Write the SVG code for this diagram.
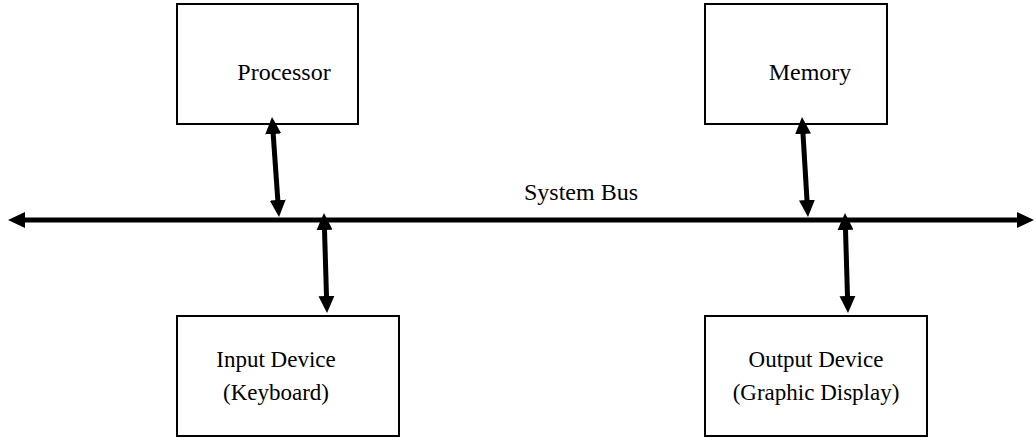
<svg xmlns="http://www.w3.org/2000/svg" width="1036" height="443" viewBox="0 0 1036 443">
  <style>
    .box { fill: #ffffff; stroke: #000000; stroke-width: 2; }
    .label { font-family: "Liberation Serif", "Times New Roman", serif; font-size: 24px; fill: #000000; text-anchor: middle; }
    .small { font-size: 23px; }
    .link { stroke: #000000; stroke-width: 5; fill: none; marker-start: url(#head); marker-end: url(#head); }
  </style>
  <defs>
    <!-- solid triangular head; line ends 10px short of the tip -->
    <marker id="head" markerUnits="userSpaceOnUse" markerWidth="17" markerHeight="16" refX="7" refY="8" orient="auto-start-reverse">
      <path d="M0,0 L17,8 L0,16 z" fill="#000000"/>
    </marker>
  </defs>

  <rect width="1036" height="443" fill="#ffffff"/>

  <g id="processor">
    <rect class="box" x="177" y="4" width="181" height="120"/>
    <text class="label" x="284" y="80">Processor</text>
  </g>

  <g id="memory">
    <rect class="box" x="705" y="4" width="182" height="120"/>
    <text class="label" x="810" y="80">Memory</text>
  </g>

  <g id="input-device">
    <rect class="box" x="177" y="316" width="222" height="120"/>
    <text class="label small" x="276" y="367">Input Device</text>
    <text class="label small" x="276" y="400">(Keyboard)</text>
  </g>

  <g id="output-device">
    <rect class="box" x="705" y="316" width="222" height="120"/>
    <text class="label small" x="816" y="367">Output Device</text>
    <text class="label small" x="816" y="400">(Graphic Display)</text>
  </g>

  <g id="system-bus">
    <text class="label" x="581" y="200">System Bus</text>
  </g>

  <g id="connectors">
    <!-- system bus -->
    <line class="link" x1="18" y1="220" x2="1024" y2="220"/>
    <!-- processor to bus -->
    <line class="link" x1="272.7" y1="127" x2="278.3" y2="207"/>
    <!-- bus to input device -->
    <line class="link" x1="324.3" y1="223" x2="326.7" y2="303"/>
    <!-- memory to bus -->
    <line class="link" x1="802.6" y1="127" x2="807.4" y2="207"/>
    <!-- bus to output device -->
    <line class="link" x1="845.3" y1="223" x2="847.7" y2="303"/>
  </g>
</svg>
